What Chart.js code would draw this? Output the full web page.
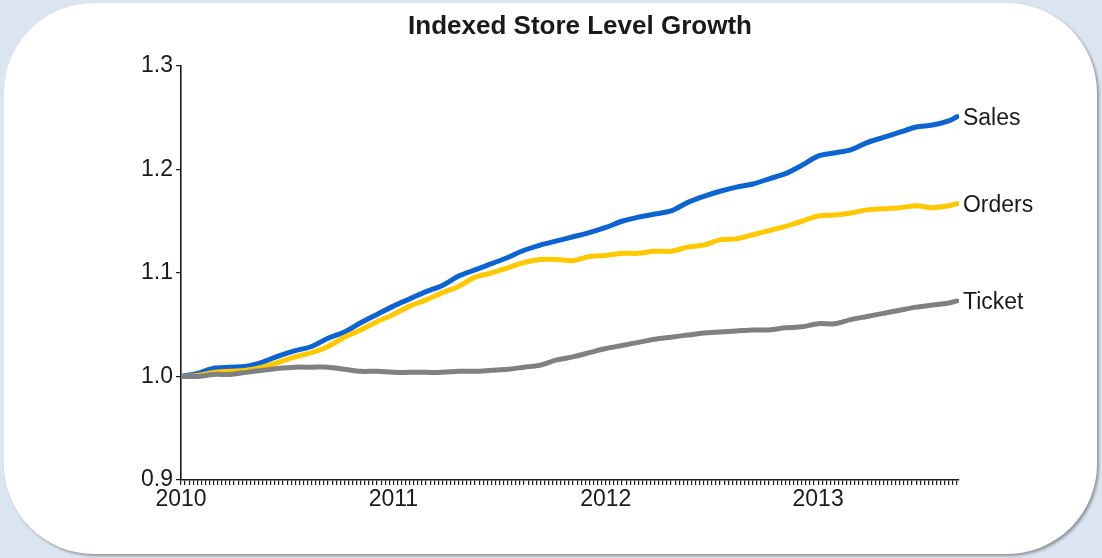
<!DOCTYPE html>
<html>
<head>
<meta charset="utf-8">
<title>Indexed Store Level Growth</title>
<script src="https://cdn.jsdelivr.net/npm/chart.js@4.4.1/dist/chart.umd.min.js"></script>
<style>
  html, body { margin: 0; padding: 0; }
  body {
    width: 1102px; height: 558px; overflow: hidden;
    background: #dbe5f1;
    position: relative;
  }
  .card {
    position: absolute; left: 4px; top: 3px; width: 1093px; height: 551px;
    background: #fff; border-radius: 90px;
    box-shadow: 2px 2px 3px rgba(0, 0, 0, 0.35);
  }
  #growthChart { position: absolute; left: 0; top: 0; }
</style>
</head>
<body>
<div class="card"></div>
<canvas id="growthChart" width="1102" height="558"></canvas>
<script>
// week number since the first week of 2010
const weeks = [0, 4, 8, 12, 16, 20, 24, 28, 32, 36, 40, 44, 48, 52, 56, 60, 64, 68, 72, 76,
  80, 84, 88, 92, 96, 100, 104, 108, 112, 116, 120, 124, 128, 132, 136, 140, 144, 148, 152,
  156, 160, 164, 168, 172, 176, 180, 184, 188, 190];

const sales = [1.000, 1.003, 1.008, 1.009, 1.010, 1.014, 1.020, 1.025, 1.029, 1.037, 1.043,
  1.052, 1.060, 1.068, 1.075, 1.082, 1.088, 1.097, 1.103, 1.109, 1.115, 1.122, 1.127, 1.131,
  1.135, 1.139, 1.144, 1.150, 1.154, 1.157, 1.160, 1.168, 1.174, 1.179, 1.183, 1.186, 1.191,
  1.196, 1.204, 1.213, 1.216, 1.219, 1.226, 1.231, 1.236, 1.241, 1.243, 1.247, 1.251];

const orders = [1.000, 1.001, 1.004, 1.005, 1.006, 1.009, 1.014, 1.019, 1.023, 1.029, 1.038,
  1.045, 1.053, 1.060, 1.068, 1.074, 1.081, 1.087, 1.096, 1.100, 1.105, 1.110, 1.113, 1.113,
  1.112, 1.116, 1.117, 1.119, 1.119, 1.121, 1.121, 1.125, 1.127, 1.132, 1.133, 1.137, 1.141,
  1.145, 1.150, 1.155, 1.156, 1.158, 1.161, 1.162, 1.163, 1.165, 1.163, 1.165, 1.167];

const ticket = [1.000, 1.000, 1.002, 1.002, 1.004, 1.006, 1.008, 1.009, 1.009, 1.009, 1.007,
  1.005, 1.005, 1.004, 1.004, 1.004, 1.004, 1.005, 1.005, 1.006, 1.007, 1.009, 1.011, 1.016,
  1.019, 1.023, 1.027, 1.030, 1.033, 1.036, 1.038, 1.040, 1.042, 1.043, 1.044, 1.045, 1.045,
  1.047, 1.048, 1.051, 1.051, 1.055, 1.058, 1.061, 1.064, 1.067, 1.069, 1.071, 1.073];

const firstYear = 2010;
const weeksPerYear = 52;
const yTicks = [0.9, 1.0, 1.1, 1.2, 1.3];
const chartTitle = "Indexed Store Level Growth";

const FONT = "'Liberation Sans', Arial, Helvetica, sans-serif";
const INK = "#1a1a1a";

const toPoints = vals => vals.map((v, i) => ({ x: weeks[i], y: v }));

function series(label, vals, color) {
  return {
    label,
    data: toPoints(vals),
    borderColor: color,
    borderWidth: 5,
    pointRadius: 0,
    tension: 0.3,
    borderCapStyle: "round",
    borderJoinStyle: "round",
    fill: false
  };
}

// series name written just right of each line's last point
const endLabels = {
  id: "endLabels",
  afterDatasetsDraw(chart) {
    const { ctx } = chart;
    ctx.save();
    ctx.font = "23px " + FONT;
    ctx.fillStyle = INK;
    ctx.textAlign = "left";
    ctx.textBaseline = "middle";
    chart.data.datasets.forEach((ds, i) => {
      const pts = chart.getDatasetMeta(i).data;
      const last = pts[pts.length - 1];
      ctx.fillText(ds.label, last.x + 6, last.y + 2);
    });
    ctx.restore();
  }
};

// heading centred over the whole card rather than the plot area
const heading = {
  id: "heading",
  afterDraw(chart) {
    const { ctx } = chart;
    ctx.save();
    ctx.font = "bold 26px " + FONT;
    ctx.fillStyle = INK;
    ctx.textAlign = "center";
    ctx.textBaseline = "middle";
    ctx.fillText(chartTitle, 580, 27);
    ctx.restore();
  }
};

new Chart(document.getElementById("growthChart"), {
  type: "line",
  data: {
    datasets: [
      series("Ticket", ticket, "#808080"),
      series("Orders", orders, "#ffc800"),
      series("Sales", sales, "#0a64d2")
    ]
  },
  options: {
    responsive: false,
    animation: false,
    layout: { padding: { left: 0, right: 143, top: 66, bottom: 0 } },
    plugins: {
      legend: { display: false },
      tooltip: { enabled: false },
      title: { display: false }
    },
    scales: {
      x: {
        type: "linear",
        min: 0,
        max: 190.5,
        afterBuildTicks(scale) {
          // one tick mark per week
          const t = [];
          for (let w = 0; w <= 190; w++) t.push({ value: w });
          scale.ticks = t;
        },
        afterFit(scale) { scale.height = 78; },
        border: { display: true, color: INK, width: 1.6 },
        grid: { drawOnChartArea: false, drawTicks: true, tickLength: 5, color: INK, lineWidth: 1.2 },
        ticks: {
          autoSkip: false,
          maxRotation: 0,
          padding: 1,
          color: INK,
          font: { family: FONT, size: 23 },
          callback: v => (v % weeksPerYear === 0 ? String(firstYear + v / weeksPerYear) : "")
        }
      },
      y: {
        min: 0.9,
        max: 1.3,
        afterBuildTicks(scale) { scale.ticks = yTicks.map(v => ({ value: v })); },
        afterFit(scale) { scale.width = 181; },
        border: { display: true, color: INK, width: 1.6 },
        grid: { drawOnChartArea: false, drawTicks: true, tickLength: 5, color: INK, lineWidth: 1.2 },
        ticks: {
          padding: 3,
          color: INK,
          font: { family: FONT, size: 23 },
          callback: v => v.toFixed(1)
        }
      }
    }
  },
  plugins: [endLabels, heading]
});
</script>
</body>
</html>
